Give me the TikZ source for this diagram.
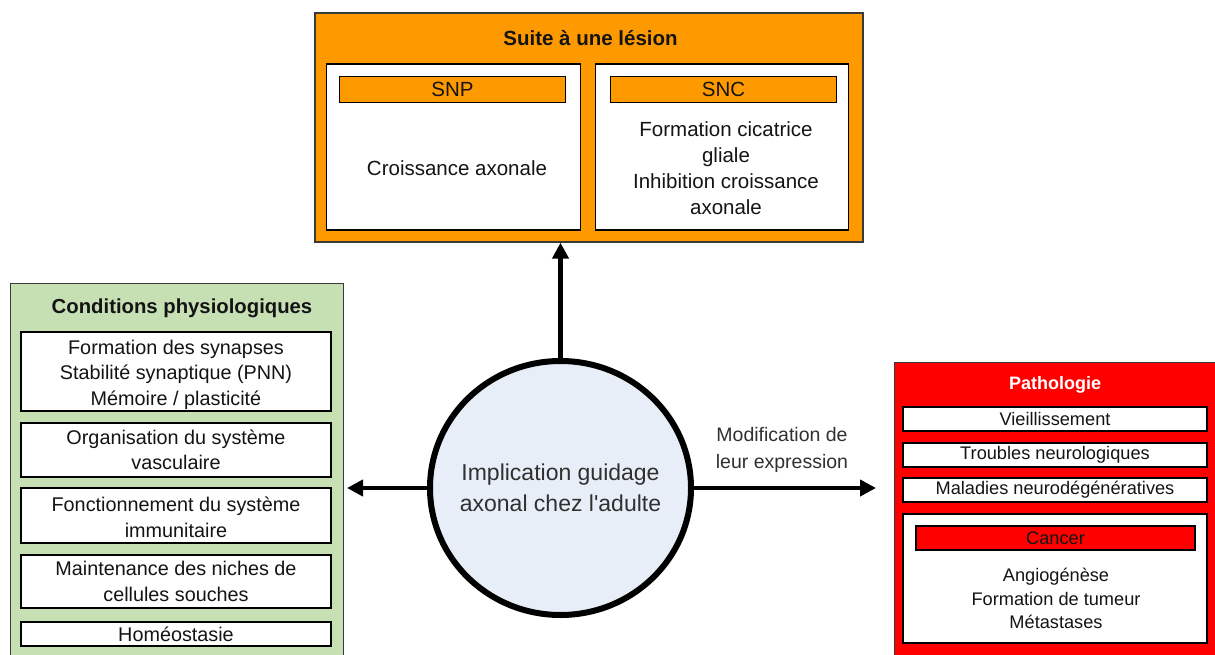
\documentclass[tikz,border=0pt]{standalone}
\usepackage{fontspec}
\setmainfont{Liberation Sans}
\usetikzlibrary{arrows.meta,shapes.geometric}
\definecolor{orangeF}{HTML}{FF9900}
\definecolor{greenF}{HTML}{C6E0B4}
\definecolor{redF}{HTML}{FF0000}
\definecolor{circF}{HTML}{E8EEF8}
\definecolor{txt}{HTML}{141414}
\definecolor{gtxt}{HTML}{303030}
\definecolor{edge}{HTML}{3A3A3A}
\begin{document}
\begin{tikzpicture}[x=1pt,y=-1pt,
  outerbox/.style={draw=edge, line width=1.3pt, inner sep=0pt},
  whitebox/.style={draw=black, line width=1.8pt, fill=white, inner sep=0pt, text=txt, align=center},
  bar/.style={draw=black, line width=1.6pt, inner sep=0pt, text=txt},
  ftop/.style={font=\fontsize{20.5}{26}\selectfont},
  fleft/.style={font=\fontsize{19.8}{25.5}\selectfont},
  fright/.style={font=\fontsize{18.2}{23.3}\selectfont},
  ttl/.style={font=\bfseries\fontsize{#1}{25}\selectfont},
  conn/.style={line width=4.5pt, -{Triangle[length=16pt,width=16pt]}}
]
\useasboundingbox (0,0) rectangle (1215,655);
\fill[white] (0,0) rectangle (1215,655);

% ---- top: Suite a une lesion
\node[outerbox, fill=orangeF, minimum width=548pt, minimum height=229pt] (lesion) at (589,127.5) {};
\node[ttl=20.5, text=txt] (lesiont) at (590.5,38) {Suite à une lésion};
\node[whitebox, minimum width=254pt, minimum height=166pt] (snpbox) at (453.5,147) {};
\node[bar, fill=orangeF, minimum width=226pt, minimum height=26pt, ftop] (snp) at (452.5,89.5) {SNP};
\node[ftop, text=txt] (snpt) at (457,168) {Croissance axonale};
\node[whitebox, minimum width=253pt, minimum height=166pt] (sncbox) at (722,147) {};
\node[bar, fill=orangeF, minimum width=226pt, minimum height=26pt, ftop] (snc) at (723.5,89.5) {SNC};
\node[ftop, text=txt, align=center] (snct) at (726,168) {Formation cicatrice\\gliale\\Inhibition croissance\\axonale};

% ---- left: Conditions physiologiques
\node[outerbox, fill=greenF, anchor=north west, minimum width=333pt, minimum height=390pt] (phys) at (10,283) {};
\node[ttl=20.3, text=txt] (physt) at (182,308) {Conditions physiologiques};
\node[whitebox, minimum width=310pt, minimum height=79pt] (p1) at (176,371.5) {};
\node[fleft, text=txt, align=center] (p1t) at (176,374.5) {Formation des synapses\\Stabilité synaptique (PNN)\\Mémoire / plasticité};
\node[whitebox, fleft, minimum width=310pt, minimum height=54pt] (p2) at (176,450) {Organisation du système\\vasculaire};
\node[whitebox, minimum width=310pt, minimum height=55pt] (p3) at (176,515.5) {};
\node[fleft, text=txt, align=center] (p3t) at (176,517.5) {Fonctionnement du système\\immunitaire};
\node[whitebox, fleft, minimum width=310pt, minimum height=53pt] (p4) at (176,581.5) {Maintenance des niches de\\cellules souches};
\node[whitebox, fleft, minimum width=310pt, minimum height=24pt] (p5) at (176,634) {Homéostasie};

% ---- right: Pathologie
\node[outerbox, fill=redF, anchor=north west, minimum width=340pt, minimum height=310pt] (patho) at (894,362) {};
\node[ttl=18, text=white] (pathot) at (1055,385) {Pathologie};
\node[whitebox, fright, minimum width=304pt, minimum height=24pt] (r1) at (1055,419) {Vieillissement};
\node[whitebox, fright, minimum width=304pt, minimum height=24pt] (r2) at (1055,455) {Troubles neurologiques};
\node[whitebox, fright, minimum width=304pt, minimum height=24pt] (r3) at (1055,490) {Maladies neurodégénératives};
\node[whitebox, minimum width=304pt, minimum height=129pt] (cancerbox) at (1055,578.5) {};
\node[bar, fill=redF, fright, minimum width=279pt, minimum height=24pt] (cancer) at (1055.5,538) {Cancer};
\node[fright, text=txt, align=center] (cancert) at (1056,598.5) {Angiogénèse\\Formation de tumeur\\Métastases};

% ---- centre
\node[ellipse, draw=black, line width=6pt, fill=circF, inner sep=0pt, minimum width=261pt, minimum height=254pt] (circ) at (560.5,488) {};
\node[text=gtxt, align=center, font=\fontsize{23}{31}\selectfont] (circt) at (circ.center) {Implication guidage\\axonal chez l\textquotesingle adulte};

\coordinate (lt) at (347,488);
\coordinate (rt) at (876,488);
\draw[conn] (circ.north) -- (circ.north |- lesion.south);
\draw[conn] (circ.west) -- (lt);
\draw[conn] (circ.east) -- (rt);
\node[text=gtxt, align=center, font=\fontsize{19.5}{27}\selectfont] (modlbl) at (782,449.5) {Modification de\\leur expression};
\end{tikzpicture}
\end{document}
